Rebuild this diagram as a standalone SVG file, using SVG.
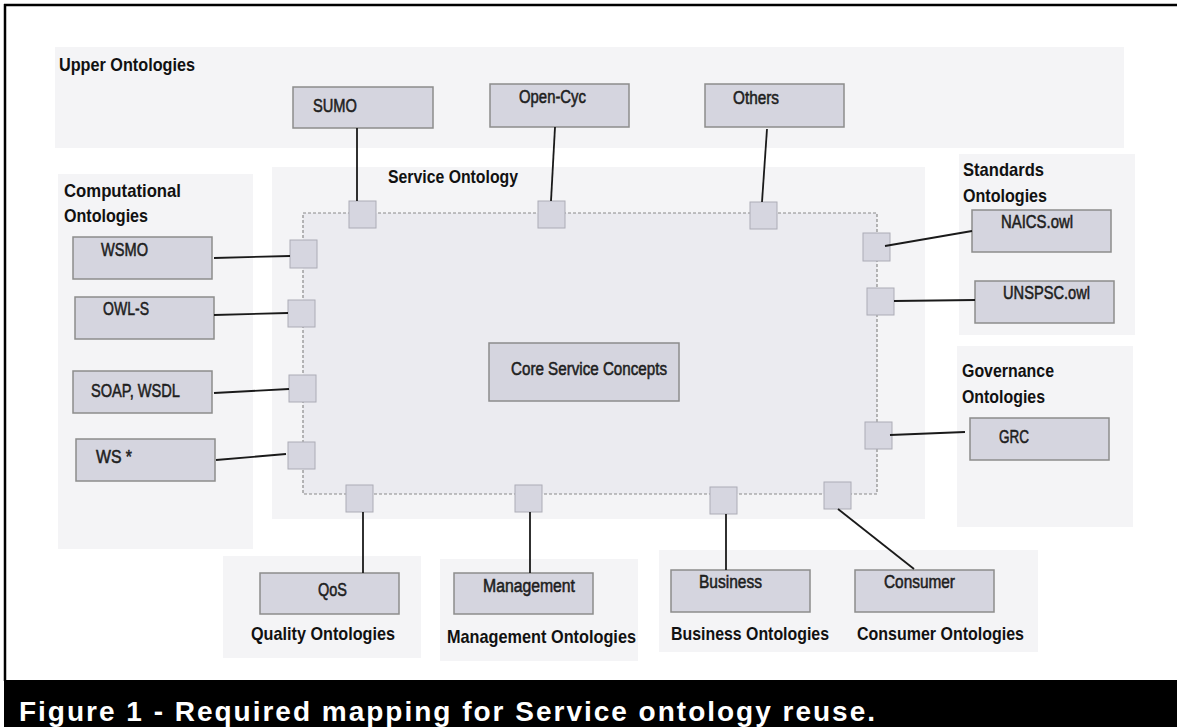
<svg xmlns="http://www.w3.org/2000/svg" width="1177" height="727" viewBox="0 0 1177 727">
<style>
.panel{fill:#f4f4f6}
.core{fill:#ebebf0;stroke:#8a8a8a;stroke-width:1.2;stroke-dasharray:3 2}
.box{fill:#d5d5df;stroke:#8c8c8c;stroke-width:1.5}
.port{fill:#d6d6e0;stroke:#acacb6;stroke-width:1}
.conn line{stroke:#1a1a1a;stroke-width:1.8}
.h{font-family:"Liberation Sans Narrow","Liberation Sans",Arial,sans-serif;font-weight:bold;font-size:19px;fill:#111}
.t{font-family:"Liberation Sans Narrow","Liberation Sans",Arial,sans-serif;font-weight:normal;font-size:18px;fill:#1e1e1e;stroke:#1e1e1e;stroke-width:0.55}
.cap{font-family:"Liberation Sans",Arial,sans-serif;font-weight:bold;font-size:28px;fill:#fff}
.frame{stroke:#000;stroke-width:2.5}
</style>
<rect x="0" y="0" width="1177" height="727" fill="#fff"/>
<line class="frame" x1="4" y1="5" x2="1177" y2="5"/>
<line class="frame" x1="5" y1="4" x2="5" y2="681"/>

<g id="panels">
<rect class="panel" x="55" y="47" width="1069" height="101"/>
<rect class="panel" x="272" y="167" width="653" height="352"/>
<rect class="panel" x="58" y="174" width="195" height="375"/>
<rect class="panel" x="959" y="154" width="176" height="181"/>
<rect class="panel" x="957" y="346" width="176" height="181"/>
<rect class="panel" x="223" y="556" width="198" height="102"/>
<rect class="panel" x="440" y="559" width="198" height="102"/>
<rect class="panel" x="659" y="550" width="379" height="102"/>
</g>

<g id="upper-ontologies"><text class="h" x="59" y="71" textLength="136" lengthAdjust="spacingAndGlyphs">Upper Ontologies</text></g>
<g id="service-ontology">
<text class="h" x="388" y="183" textLength="130" lengthAdjust="spacingAndGlyphs">Service Ontology</text>
<rect class="core" x="303" y="213" width="574" height="281"/>
</g>
<g id="computational-ontologies">
<text class="h" x="64" y="197" textLength="117" lengthAdjust="spacingAndGlyphs">Computational</text>
<text class="h" x="64" y="222" textLength="84" lengthAdjust="spacingAndGlyphs">Ontologies</text>
</g>
<g id="standards-ontologies">
<text class="h" x="963" y="176" textLength="81" lengthAdjust="spacingAndGlyphs">Standards</text>
<text class="h" x="963" y="202" textLength="84" lengthAdjust="spacingAndGlyphs">Ontologies</text>
</g>
<g id="governance-ontologies">
<text class="h" x="962" y="377" textLength="92" lengthAdjust="spacingAndGlyphs">Governance</text>
<text class="h" x="962" y="403" textLength="83" lengthAdjust="spacingAndGlyphs">Ontologies</text>
</g>
<g id="quality-ontologies"><text class="h" x="251" y="640" textLength="144" lengthAdjust="spacingAndGlyphs">Quality Ontologies</text></g>
<g id="management-ontologies"><text class="h" x="447" y="643" textLength="189" lengthAdjust="spacingAndGlyphs">Management Ontologies</text></g>
<g id="business-ontologies"><text class="h" x="671" y="640" textLength="158" lengthAdjust="spacingAndGlyphs">Business Ontologies</text></g>
<g id="consumer-ontologies"><text class="h" x="857" y="640" textLength="167" lengthAdjust="spacingAndGlyphs">Consumer Ontologies</text></g>

<g id="sumo"><rect class="box" x="293" y="87" width="140" height="41"/><text class="t" x="313" y="112" textLength="44" lengthAdjust="spacingAndGlyphs">SUMO</text></g>
<g id="open-cyc"><rect class="box" x="490" y="84" width="139" height="43"/><text class="t" x="519" y="103" textLength="67" lengthAdjust="spacingAndGlyphs">Open-Cyc</text></g>
<g id="others"><rect class="box" x="705" y="84" width="139" height="43"/><text class="t" x="733" y="104" textLength="46" lengthAdjust="spacingAndGlyphs">Others</text></g>
<g id="wsmo"><rect class="box" x="73" y="237" width="139" height="42"/><text class="t" x="101" y="256" textLength="47" lengthAdjust="spacingAndGlyphs">WSMO</text></g>
<g id="owl-s"><rect class="box" x="75" y="297" width="139" height="42"/><text class="t" x="103" y="315" textLength="46" lengthAdjust="spacingAndGlyphs">OWL-S</text></g>
<g id="soap-wsdl"><rect class="box" x="73" y="371" width="139" height="42"/><text class="t" x="91" y="397" textLength="89" lengthAdjust="spacingAndGlyphs">SOAP, WSDL</text></g>
<g id="ws-star"><rect class="box" x="76" y="439" width="139" height="42"/><text class="t" x="96" y="463" textLength="36" lengthAdjust="spacingAndGlyphs">WS *</text></g>
<g id="naics"><rect class="box" x="972" y="210" width="139" height="42"/><text class="t" x="1001" y="228" textLength="72" lengthAdjust="spacingAndGlyphs">NAICS.owl</text></g>
<g id="unspsc"><rect class="box" x="975" y="281" width="139" height="42"/><text class="t" x="1003" y="299" textLength="87" lengthAdjust="spacingAndGlyphs">UNSPSC.owl</text></g>
<g id="grc"><rect class="box" x="970" y="418" width="139" height="42"/><text class="t" x="999" y="443" textLength="30" lengthAdjust="spacingAndGlyphs">GRC</text></g>
<g id="core-service-concepts"><rect class="box" x="489" y="343" width="190" height="58"/><text class="t" x="511" y="375" textLength="156" lengthAdjust="spacingAndGlyphs">Core Service Concepts</text></g>
<g id="qos"><rect class="box" x="260" y="573" width="139" height="41"/><text class="t" x="318" y="596" textLength="29" lengthAdjust="spacingAndGlyphs">QoS</text></g>
<g id="management"><rect class="box" x="454" y="573" width="139" height="41"/><text class="t" x="483" y="592" textLength="92" lengthAdjust="spacingAndGlyphs">Management</text></g>
<g id="business"><rect class="box" x="671" y="570" width="139" height="42"/><text class="t" x="699" y="588" textLength="63" lengthAdjust="spacingAndGlyphs">Business</text></g>
<g id="consumer"><rect class="box" x="855" y="570" width="139" height="42"/><text class="t" x="884" y="588" textLength="71" lengthAdjust="spacingAndGlyphs">Consumer</text></g>

<g id="ports">
<rect class="port" x="349" y="201" width="27" height="27"/>
<rect class="port" x="538" y="201" width="27" height="27"/>
<rect class="port" x="750" y="202" width="27" height="27"/>
<rect class="port" x="290" y="240" width="27" height="28"/>
<rect class="port" x="288" y="300" width="27" height="27"/>
<rect class="port" x="289" y="375" width="27" height="27"/>
<rect class="port" x="288" y="442" width="27" height="27"/>
<rect class="port" x="863" y="233" width="27" height="28"/>
<rect class="port" x="867" y="288" width="27" height="27"/>
<rect class="port" x="865" y="422" width="27" height="27"/>
<rect class="port" x="346" y="485" width="27" height="27"/>
<rect class="port" x="515" y="485" width="27" height="27"/>
<rect class="port" x="710" y="487" width="27" height="27"/>
<rect class="port" x="824" y="482" width="27" height="27"/>
</g>

<g id="connectors" class="conn">
<line x1="357" y1="128" x2="357" y2="201"/>
<line x1="555" y1="127" x2="551" y2="201"/>
<line x1="767" y1="129" x2="762" y2="202"/>
<line x1="214" y1="258" x2="290" y2="256"/>
<line x1="214" y1="315" x2="288" y2="313"/>
<line x1="214" y1="393" x2="289" y2="389"/>
<line x1="216" y1="460" x2="286" y2="454"/>
<line x1="885" y1="246" x2="972" y2="231"/>
<line x1="894" y1="301" x2="975" y2="300"/>
<line x1="890" y1="435" x2="965" y2="432"/>
<line x1="363" y1="512" x2="363" y2="573"/>
<line x1="530" y1="512" x2="530" y2="573"/>
<line x1="726" y1="514" x2="726" y2="570"/>
<line x1="838" y1="509" x2="914" y2="569"/>
</g>

<g id="caption">
<rect x="4" y="680" width="1173" height="47" fill="#000"/>
<text class="cap" x="19" y="721" textLength="856" lengthAdjust="spacing">Figure 1 - Required mapping for Service ontology reuse.</text>
</g>
</svg>
